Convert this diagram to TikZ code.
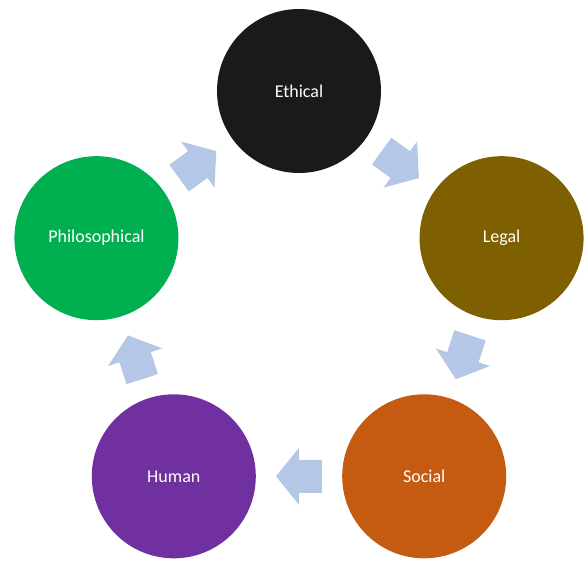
\documentclass[tikz,border=0pt]{standalone}
\usepackage{fontspec}
\setmainfont{Carlito}
\usepackage{tikz}
\usetikzlibrary{calc}
\definecolor{EthicalBlack}{HTML}{1A1A1A}
\definecolor{LegalOlive}{HTML}{7F6000}
\definecolor{SocialOrange}{HTML}{C55A11}
\definecolor{HumanPurple}{HTML}{7030A0}
\definecolor{PhiloGreen}{HTML}{00B050}
\definecolor{FlowBlue}{HTML}{B4C7E7}

\begin{document}
\begin{tikzpicture}[x=1pt,y=1pt,
        disc/.style={circle,minimum size=164pt,inner sep=0pt,text=white,
            font=\fontsize{18}{21}\selectfont},
        flow/.pic={\fill[FlowBlue] (-23,-16.5) -- (0,-16.5) -- (0,-28.5) -- (23,0)
            -- (0,28.5) -- (0,16.5) -- (-23,16.5) -- cycle;}]
        \useasboundingbox (-299,-257) rectangle (285,304);
        \node[disc,fill=EthicalBlack] (ethical) at (90:213) {Ethical};
        \node[disc,fill=LegalOlive] (legal) at (18:213) {Legal};
        \node[disc,fill=SocialOrange] (social) at (-54:213) {Social};
        \node[disc,fill=HumanPurple] (human) at (-126:213) {Human};
        \node[disc,fill=PhiloGreen] (philo) at (162:213) {Philosophical};
        \foreach \from/\to/\ang in {philo/ethical/36, ethical/legal/-36,
                legal/social/-108, social/human/180, human/philo/108}
            \path ($(\from)!0.5!(\to)$) pic[rotate=\ang] {flow};
    \end{tikzpicture}
\end{document}
